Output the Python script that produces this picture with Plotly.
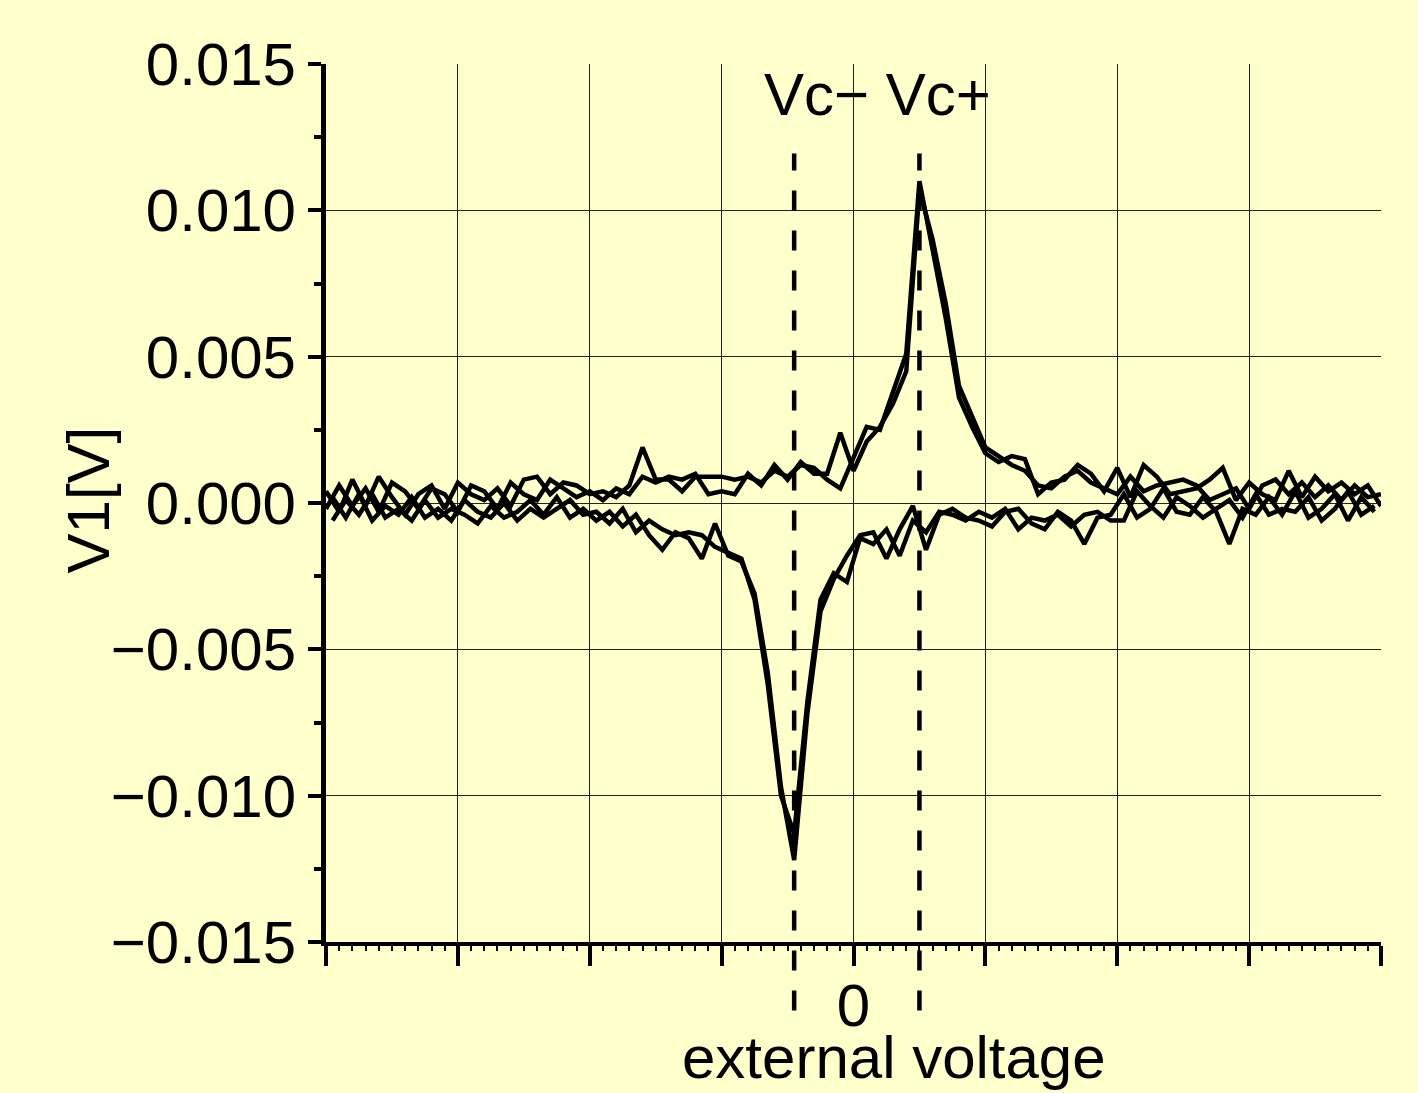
import numpy as np
import plotly.graph_objects as go

# ---------------- data ----------------
# upper branch (peak at Vc+), sampled at -4.0 ... 4.0 step 0.1
x_up = np.round(np.arange(-4.0, 4.0001, 0.1), 2)
up_1 = [0.0004, -0.0003, 0.0008, -0.0001, 0.0009, 0.0002, -0.0004, 0.0003, 0.0006, -0.0002,
        0.0007, 0.0003, 0.0001, 0.0005, -0.0001, 0.0008, 0.0009, 0.0003, 0.0007, 0.0006,
        0.0003, 0.0004, 0.0002, 0.0006, 0.0019, 0.0008, 0.0008, 0.0004, 0.0009, 0.0009,
        0.0009, 0.0008, 0.0009, 0.0007, 0.0011, 0.0009, 0.0013, 0.0012, 0.0008, 0.0005,
        0.0016, 0.0026, 0.0025, 0.0038, 0.0051, 0.0110, 0.0086, 0.0063, 0.0036, 0.0026,
        0.0017, 0.0014, 0.0016, 0.0015, 0.0003, 0.0007, 0.0008, 0.0013, 0.0010, 0.0004,
        0.0012, 0.0002, 0.0013, 0.0009, 0.0003, 0.0004, 0.0005, 0.0008, 0.0012, 0.0001,
        0.0007, 0.0003, 0.0001, 0.0011, 0.0002, 0.0009, 0.0004, 0.0007, 0.0003, 0.0006,
        -0.0001]
up_2 = [-0.0002, 0.0006, -0.0001, 0.0005, -0.0003, 0.0007, 0.0004, -0.0002, 0.0005, 0.0003,
        -0.0003, 0.0006, 0.0004, -0.0002, 0.0007, 0.0003, 0.0001, 0.0008, 0.0005, 0.0002,
        0.0004, 0.0001, 0.0005, 0.0003, 0.0009, 0.0007, 0.0009, 0.0008, 0.0010, 0.0003,
        0.0004, 0.0003, 0.0010, 0.0006, 0.0013, 0.0008, 0.0014, 0.0010, 0.0010, 0.0024,
        0.0011, 0.0021, 0.0026, 0.0034, 0.0045, 0.0107, 0.0090, 0.0068, 0.0040, 0.0029,
        0.0019, 0.0016, 0.0013, 0.0011, 0.0006, 0.0005, 0.0009, 0.0011, 0.0007, 0.0005,
        0.0003, 0.0009, 0.0004, 0.0006, 0.0007, 0.0008, 0.0006, 0.0001, 0.0003, 0.0005,
        -0.0002, 0.0006, 0.0008, 0.0003, 0.0007, 0.0002, 0.0006, 0.0001, 0.0006, 0.0002,
        0.0003]

# lower branch (dip at Vc-), sampled at -3.95 ... 3.95 step 0.1
x_down = np.round(np.arange(-3.95, 3.9501, 0.1), 2)
down_1 = [-0.0006, 0.0001, -0.0004, 0.0003, -0.0005, -0.0002, -0.0006, 0.0001, -0.0005, -0.0002,
          -0.0004, -0.0007, -0.0001, -0.0005, -0.0003, 0.0001, -0.0004, 0.0002, -0.0005, -0.0002,
          -0.0006, -0.0003, -0.0008, -0.0004, -0.0011, -0.0016, -0.0010, -0.0012, -0.0019, -0.0007,
          -0.0018, -0.0020, -0.0031, -0.0058, -0.0097, -0.0122, -0.0072, -0.0037, -0.0026, -0.0018,
          -0.0011, -0.0010, -0.0019, -0.0009, -0.0001, -0.0016, -0.0004, -0.0002, -0.0005, -0.0006,
          -0.0008, -0.0003, -0.0002, -0.0007, -0.0009, -0.0003, -0.0006, -0.0014, -0.0005, -0.0004,
          0.0003, -0.0005, -0.0002, 0.0005, -0.0003, -0.0004, 0.0002, -0.0003, -0.0014, -0.0002,
          -0.0004, 0.0002, -0.0004, 0.0004, -0.0005, -0.0002, 0.0003, -0.0006, 0.0002, -0.0003]
down_2 = [0.0002, -0.0005, 0.0003, -0.0006, -0.0001, -0.0004, 0.0002, -0.0005, -0.0002, -0.0006,
          0.0001, -0.0003, -0.0005, 0.0000, -0.0006, -0.0002, -0.0005, -0.0002, 0.0001, -0.0004,
          -0.0003, -0.0007, -0.0002, -0.0010, -0.0006, -0.0009, -0.0011, -0.0010, -0.0011, -0.0015,
          -0.0017, -0.0019, -0.0033, -0.0062, -0.0100, -0.0113, -0.0068, -0.0033, -0.0024, -0.0027,
          -0.0012, -0.0014, -0.0009, -0.0018, -0.0006, -0.0010, -0.0003, -0.0004, -0.0006, -0.0003,
          -0.0005, -0.0002, -0.0009, -0.0005, -0.0006, -0.0004, -0.0008, -0.0004, -0.0003, -0.0006,
          -0.0006, 0.0004, -0.0001, -0.0005, 0.0002, -0.0001, -0.0005, -0.0002, 0.0001, -0.0005,
          0.0003, -0.0004, -0.0002, -0.0003, 0.0002, -0.0006, -0.0002, 0.0004, -0.0004, -0.0001]

vc_minus = -0.45
vc_plus = 0.5

x_tickvals = [-4, -3, -2, -1, 0, 1, 2, 3, 4]
x_ticktext = ["", "", "", "", "0", "", "", "", ""]
y_tickvals = [-0.015, -0.010, -0.005, 0.0, 0.005, 0.010, 0.015]
y_ticktext = ["\u22120.015", "\u22120.010", "\u22120.005", "0.000", "0.005", "0.010", "0.015"]
x_grid = [-3, -2, -1, 0, 1, 2, 3]
y_grid = [-0.010, -0.005, 0.0, 0.005, 0.010]

BG = "#FFFFCC"
FONT = "Liberation Sans, Arial, Helvetica, sans-serif"
FS = 60

fig = go.Figure()
fig.add_trace(go.Scatter(x=[], y=[], xaxis="x2", yaxis="y2", showlegend=False, hoverinfo="skip"))
for xs, ys in [(x_up, up_1), (x_up, up_2), (x_down, down_1), (x_down, down_2)]:
    fig.add_trace(go.Scatter(x=xs, y=ys, mode="lines",
                             line=dict(color="black", width=4.5),
                             showlegend=False))

for vc in (vc_minus, vc_plus):
    fig.add_shape(type="line", xref="x", yref="paper", x0=vc, x1=vc,
                  y0=-0.078, y1=0.898,
                  line=dict(color="black", width=4.5, dash="20px,20px"))

fig.add_annotation(x=0.18, y=0.965, xref="x", yref="paper", text="Vc\u2212 Vc+",
                   showarrow=False, font=dict(family=FONT, size=FS, color="black"),
                   xanchor="center", yanchor="middle")
# axis titles
fig.add_annotation(x=0.5384, y=-0.131, xref="paper", yref="paper", text="external voltage",
                   showarrow=False, font=dict(family=FONT, size=FS, color="black"),
                   xanchor="center", yanchor="middle")
fig.add_annotation(x=-0.2255, y=0.503, xref="paper", yref="paper", text="V1[V]",
                   textangle=-90, showarrow=False,
                   font=dict(family=FONT, size=FS, color="black"),
                   xanchor="center", yanchor="middle")

fig.update_layout(
    width=1418, height=1093,
    paper_bgcolor=BG, plot_bgcolor=BG,
    margin=dict(l=326, r=37, t=64, b=151),
    font=dict(family=FONT, size=FS, color="black"),
    showlegend=False,
    xaxis=dict(range=[-4, 4], tickvals=x_tickvals, ticktext=x_ticktext,
               showgrid=False, zeroline=False,
               showline=True, linecolor="black", linewidth=4,
               ticks="outside", ticklen=20, tickwidth=3.5, tickcolor="black",
               minor=dict(dtick=0.1, ticks="outside", ticklen=5, tickwidth=2,
                          tickcolor="black", showgrid=False),
               tickfont=dict(family=FONT, size=FS),
               ticklabelstandoff=-12,
               automargin=False),
    yaxis=dict(range=[-0.015, 0.015], tickvals=y_tickvals, ticktext=y_ticktext,
               showgrid=False, zeroline=False,
               showline=True, linecolor="black", linewidth=5,
               ticks="outside", ticklen=13, tickwidth=3.5, tickcolor="black",
               minor=dict(dtick=0.0025, tick0=0, ticks="outside", ticklen=7, tickwidth=3.5,
                          tickcolor="black", showgrid=False),
               tickfont=dict(family=FONT, size=FS),
               automargin=False),
    xaxis2=dict(range=[-4, 4], overlaying="x", tickvals=x_grid, showticklabels=False,
                ticks="", showgrid=True, gridcolor="#222222", gridwidth=1.2,
                zeroline=False, showline=False),
    yaxis2=dict(range=[-0.015, 0.015], overlaying="y", tickvals=y_grid, showticklabels=False,
                ticks="", showgrid=True, gridcolor="#222222", gridwidth=1.2,
                zeroline=False, showline=False),
)

fig.write_html("out.html")
